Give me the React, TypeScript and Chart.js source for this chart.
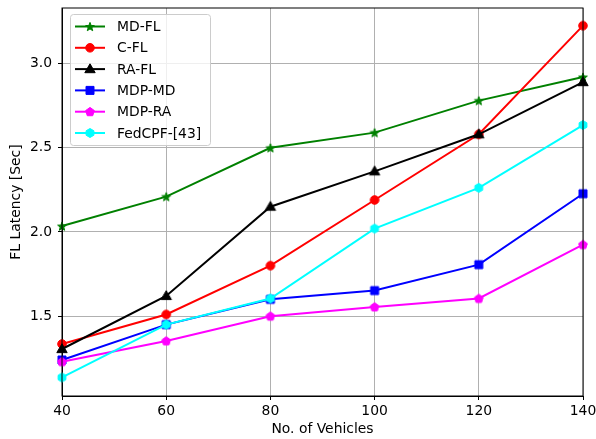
import React, { useEffect, useRef } from 'react';
import { Chart, registerables } from 'chart.js';
Chart.register(...registerables);

const vehicles = [40, 60, 80, 100, 120, 140];
const mdFL = [2.035, 2.21, 2.5, 2.59, 2.78, 2.92];
const cFL = [1.335, 1.51, 1.8, 2.19, 2.58, 3.225];
const raFL = [1.305, 1.62, 2.15, 2.36, 2.58, 2.89];
const mdpMD = [1.24, 1.45, 1.6, 1.652, 1.806, 2.227];
const mdpRA = [1.23, 1.353, 1.5, 1.555, 1.605, 1.925];
const fedCPF = [1.136, 1.45, 1.605, 2.02, 2.262, 2.635];
const seriesNames = ['MD-FL', 'C-FL', 'RA-FL', 'MDP-MD', 'MDP-RA', 'FedCPF-[43]'];
const seriesColors = ['#008000', '#ff0000', '#000000', '#0000ff', '#ff00ff', '#00ffff'];
const seriesMarkers = ['star', 'circle', 'triangle', 'square', 'pentagon', 'hexagon'];
const xTicks = [40, 60, 80, 100, 120, 140];
const yTicks = [1.5, 2.0, 2.5, 3.0];

const FONT = '"DejaVu Sans", sans-serif';

function polyPath(ctx: CanvasRenderingContext2D, cx: number, cy: number, r: number, n: number, inner?: number) {
  ctx.beginPath();
  const count = inner ? n * 2 : n;
  for (let i = 0; i < count; i++) {
    const a = -Math.PI / 2 + (i * 2 * Math.PI) / count;
    const rr = inner ? (i % 2 === 0 ? r : inner) : r;
    const x = cx + rr * Math.cos(a);
    const y = cy + rr * Math.sin(a);
    if (i === 0) ctx.moveTo(x, y);
    else ctx.lineTo(x, y);
  }
  ctx.closePath();
}

function drawMarker(ctx: CanvasRenderingContext2D, kind: string, cx: number, cy: number, color: string) {
  ctx.save();
  ctx.fillStyle = color;
  ctx.strokeStyle = color;
  ctx.lineWidth = 1;
  ctx.lineJoin = 'miter';
  if (kind === 'circle') {
    ctx.beginPath();
    ctx.arc(cx, cy, 4.3, 0, Math.PI * 2);
  } else if (kind === 'square') {
    ctx.beginPath();
    ctx.rect(cx - 4, cy - 4, 8, 8);
  } else if (kind === 'triangle') {
    ctx.beginPath();
    ctx.moveTo(cx, cy - 5.3);
    ctx.lineTo(cx + 5.2, cy + 3.6);
    ctx.lineTo(cx - 5.2, cy + 3.6);
    ctx.closePath();
  } else if (kind === 'star') {
    polyPath(ctx, cx, cy + 0.5, 4.6, 5, 1.9);
  } else if (kind === 'pentagon') {
    polyPath(ctx, cx, cy + 0.3, 4.6, 5);
  } else if (kind === 'hexagon') {
    polyPath(ctx, cx, cy, 4.5, 6);
  }
  ctx.fill();
  ctx.stroke();
  ctx.restore();
}

function markerImage(kind: string, color: string) {
  const c = document.createElement('canvas');
  c.width = 14;
  c.height = 14;
  const ctx = c.getContext('2d')!;
  drawMarker(ctx, kind, 7, 7, color);
  return c;
}

const allSeries = [mdFL, cFL, raFL, mdpMD, mdpRA, fedCPF];

const framePlugin = {
  id: 'frameAndLegend',
  afterDraw(chart: any) {
    const { ctx, chartArea } = chart;
    ctx.save();
    ctx.strokeStyle = '#000';
    ctx.lineWidth = 1;
    ctx.strokeRect(chartArea.left, chartArea.top, chartArea.right - chartArea.left, chartArea.bottom - chartArea.top);
    // legend
    const bx = 70.5, by = 14.5, bw = 140, bh = 131;
    const r = 3;
    ctx.beginPath();
    ctx.moveTo(bx + r, by);
    ctx.lineTo(bx + bw - r, by);
    ctx.quadraticCurveTo(bx + bw, by, bx + bw, by + r);
    ctx.lineTo(bx + bw, by + bh - r);
    ctx.quadraticCurveTo(bx + bw, by + bh, bx + bw - r, by + bh);
    ctx.lineTo(bx + r, by + bh);
    ctx.quadraticCurveTo(bx, by + bh, bx, by + bh - r);
    ctx.lineTo(bx, by + r);
    ctx.quadraticCurveTo(bx, by, bx + r, by);
    ctx.closePath();
    ctx.fillStyle = 'rgba(255,255,255,0.8)';
    ctx.fill();
    ctx.strokeStyle = '#cccccc';
    ctx.stroke();
    ctx.font = '13.9px ' + FONT;
    ctx.textBaseline = 'middle';
    ctx.textAlign = 'left';
    for (let i = 0; i < seriesNames.length; i++) {
      const y = 26.5 + i * 21.3;
      ctx.strokeStyle = seriesColors[i];
      ctx.lineWidth = 2;
      ctx.beginPath();
      ctx.moveTo(75, y);
      ctx.lineTo(105, y);
      ctx.stroke();
      drawMarker(ctx, seriesMarkers[i], 90, y, seriesColors[i]);
      ctx.fillStyle = '#000';
      ctx.fillText(seriesNames[i], 117, y + 1);
    }
    ctx.restore();
  },
};

function zeroPad(s: any) {
  s.paddingTop = 0;
  s.paddingBottom = 0;
  s.paddingLeft = 0;
  s.paddingRight = 0;
}

export default function App() {
  const ref = useRef<HTMLCanvasElement>(null);
  useEffect(() => {
    if (!ref.current) return;
    const datasets = allSeries.map((vals, i) => ({
      label: seriesNames[i],
      data: vals.map((v, j) => ({ x: vehicles[j], y: v })),
      borderColor: seriesColors[i],
      backgroundColor: seriesColors[i],
      borderWidth: 2,
      pointStyle: markerImage(seriesMarkers[i], seriesColors[i]),
      pointRadius: 5,
      pointHoverRadius: 5,
      tension: 0,
      order: seriesNames.length - i,
      clip: false as any,
    }));
    const chart = new Chart(ref.current, {
      type: 'line',
      data: { datasets },
      plugins: [framePlugin],
      options: {
        animation: false,
        responsive: false,
        maintainAspectRatio: false,
        layout: { autoPadding: false, padding: { left: 0, right: 13, top: 8, bottom: 0 } },
        plugins: { legend: { display: false }, tooltip: { enabled: false } },
        scales: {
          x: {
            type: 'linear',
            min: 40,
            max: 140,
            afterFit: (s: any) => { s.height = 43; zeroPad(s); },
            afterBuildTicks: (s: any) => { s.ticks = xTicks.map((v) => ({ value: v })); },
            ticks: {
              color: '#000',
              font: { family: FONT, size: 13.9 },
              padding: 3,
              maxRotation: 0,
              callback: (v: any) => String(v),
            },
            grid: { color: '#b0b0b0', lineWidth: 1, tickColor: '#000', tickLength: 4 },
            border: { color: '#000', width: 1 },
            title: {
              display: true,
              text: 'No. of Vehicles',
              color: '#000',
              font: { family: FONT, size: 13.9 },
              padding: { top: 0, bottom: 1 },
            },
          },
          y: {
            type: 'linear',
            min: 1.026,
            max: 3.33,
            afterFit: (s: any) => { s.width = 62; zeroPad(s); },
            afterBuildTicks: (s: any) => { s.ticks = yTicks.map((v) => ({ value: v })); },
            ticks: {
              color: '#000',
              font: { family: FONT, size: 13.9 },
              padding: 6,
              callback: (v: any) => Number(v).toFixed(1),
            },
            grid: { color: '#b0b0b0', lineWidth: 1, tickColor: '#000', tickLength: 4 },
            border: { color: '#000', width: 1 },
            title: {
              display: true,
              text: 'FL Latency [Sec]',
              color: '#000',
              font: { family: FONT, size: 13.9 },
              padding: { top: 8, bottom: 0 },
            },
          },
        },
      },
    });
    return () => chart.destroy();
  }, []);
  return (
    <div style={{ position: 'fixed', left: 0, top: 0, width: 596, height: 439, background: '#fff' }}>
      <canvas ref={ref} width={596} height={439} style={{ width: 596, height: 439 }} />
    </div>
  );
}
